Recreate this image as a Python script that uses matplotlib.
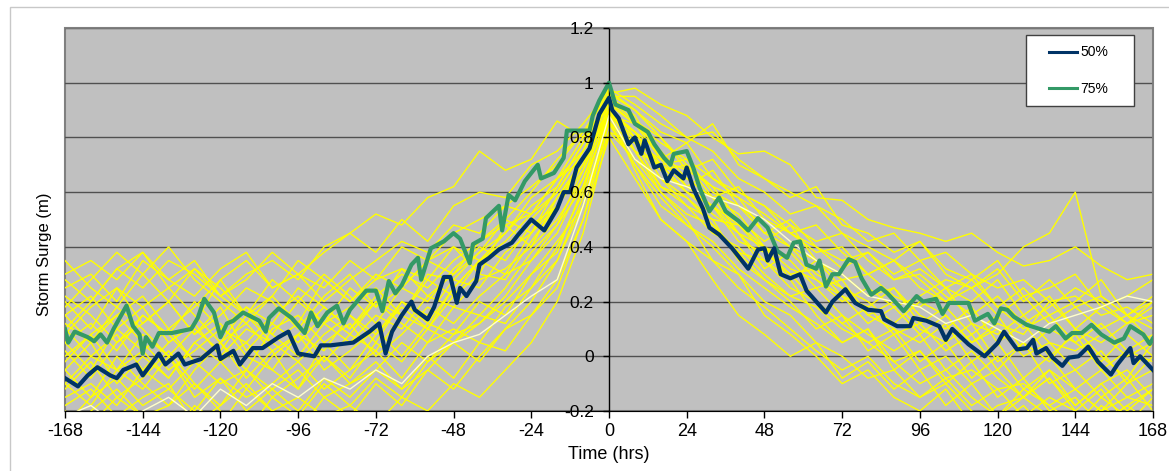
import matplotlib
matplotlib.use('Agg')  # no display here
import matplotlib.pyplot as plt
from matplotlib.patches import Rectangle
import numpy as np

plt.rcParams['font.family'] = ['Liberation Sans', 'DejaVu Sans']

# ---- data ----
x_ticks = [-168, -144, -120, -96, -72, -48, -24, 0, 24, 48, 72, 96, 120, 144, 168]
y_ticks = [-0.2, 0, 0.2, 0.4, 0.6, 0.8, 1.0, 1.2]
y_labels = ['-0.2', '0', '0.2', '0.4', '0.6', '0.8', '1', '1.2']

# individual storm runs, one value every 8 hours from -168 to 168
run_hours = np.arange(-168, 169, 8)
yellow_runs = [
    [0.30, 0.35, 0.28, 0.38, 0.25, 0.32, 0.22, 0.30, 0.35, 0.28, 0.40,
     0.45, 0.38, 0.50, 0.42, 0.55, 0.60, 0.58, 0.70, 0.75, 0.85, 0.97,
     0.90, 0.82, 0.78, 0.85, 0.70, 0.65, 0.60, 0.55, 0.50, 0.42, 0.45,
     0.35, 0.38, 0.30, 0.25, 0.28, 0.20, 0.22, 0.15, 0.18, 0.12],
    [-0.15, -0.10, -0.18, -0.05, -0.12, -0.20, -0.08, -0.15, -0.10, -0.02, -0.12,
     -0.05, 0.02, -0.08, 0.05, 0.10, 0.05, 0.18, 0.25, 0.40, 0.60, 0.90,
     0.75, 0.62, 0.55, 0.45, 0.40, 0.30, 0.22, 0.18, 0.10, 0.05, -0.02,
     0.02, -0.08, -0.05, -0.12, -0.10, -0.18, -0.12, -0.20, -0.15, -0.18],
    [0.05, 0.12, 0.02, 0.15, 0.08, 0.20, 0.10, 0.05, 0.15, 0.22, 0.12,
     0.18, 0.25, 0.15, 0.30, 0.28, 0.38, 0.45, 0.55, 0.62, 0.78, 0.92,
     0.80, 0.70, 0.72, 0.60, 0.55, 0.48, 0.40, 0.35, 0.28, 0.30, 0.22,
     0.18, 0.25, 0.12, 0.08, 0.15, 0.05, 0.02, 0.08, 0.00, 0.05],
    [0.20, 0.10, 0.25, 0.18, 0.05, 0.12, 0.28, 0.15, 0.08, 0.20, 0.30,
     0.22, 0.12, 0.25, 0.35, 0.40, 0.30, 0.48, 0.52, 0.65, 0.72, 0.88,
     0.85, 0.75, 0.65, 0.58, 0.62, 0.50, 0.45, 0.38, 0.40, 0.30, 0.35,
     0.25, 0.20, 0.28, 0.18, 0.10, 0.15, 0.05, 0.12, 0.02, 0.08],
    [-0.20, -0.25, -0.15, -0.22, -0.30, -0.18, -0.25, -0.12, -0.20, -0.28, -0.15,
     -0.22, -0.10, -0.18, -0.05, -0.12, 0.00, 0.10, 0.20, 0.35, 0.55, 0.85,
     0.70, 0.55, 0.48, 0.40, 0.30, 0.20, 0.15, 0.05, 0.00, -0.08, -0.05,
     -0.15, -0.10, -0.20, -0.25, -0.18, -0.28, -0.22, -0.30, -0.25, -0.22],
    [0.10, 0.00, 0.08, -0.05, 0.05, 0.12, 0.00, 0.10, 0.05, -0.02, 0.08,
     0.15, 0.05, 0.20, 0.12, 0.25, 0.35, 0.30, 0.45, 0.58, 0.70, 0.95,
     0.88, 0.72, 0.68, 0.62, 0.50, 0.42, 0.48, 0.35, 0.30, 0.22, 0.25,
     0.15, 0.10, 0.18, 0.05, 0.12, 0.00, 0.08, -0.05, 0.02, -0.02],
    [0.00, 0.08, -0.05, 0.02, 0.10, -0.02, 0.05, 0.12, 0.02, 0.08, 0.18,
     0.10, 0.20, 0.15, 0.28, 0.22, 0.35, 0.40, 0.50, 0.60, 0.75, 0.90,
     0.82, 0.70, 0.60, 0.55, 0.45, 0.40, 0.32, 0.28, 0.20, 0.25, 0.18,
     0.22, 0.28, 0.25, 0.30, 0.40, 0.45, 0.60, 0.22, 0.15, 0.10],
    [0.25, 0.30, 0.20, 0.35, 0.28, 0.22, 0.32, 0.38, 0.25, 0.30, 0.20,
     0.28, 0.35, 0.42, 0.38, 0.48, 0.45, 0.55, 0.52, 0.65, 0.80, 0.98,
     0.92, 0.85, 0.80, 0.75, 0.65, 0.60, 0.52, 0.55, 0.45, 0.40, 0.35,
     0.42, 0.30, 0.25, 0.32, 0.20, 0.28, 0.18, 0.22, 0.15, 0.20],
    [-0.05, 0.05, -0.10, 0.00, -0.08, 0.05, -0.02, -0.12, 0.00, 0.08, -0.05,
     0.02, 0.10, 0.00, 0.12, 0.08, 0.20, 0.15, 0.30, 0.42, 0.55, 0.82,
     0.78, 0.68, 0.70, 0.58, 0.52, 0.40, 0.35, 0.25, 0.28, 0.15, 0.10,
     0.05, 0.12, -0.02, 0.05, -0.08, 0.00, -0.12, -0.05, -0.15, -0.10],
    [0.15, 0.22, 0.10, 0.18, 0.25, 0.15, 0.05, 0.18, 0.12, 0.25, 0.18,
     0.10, 0.22, 0.30, 0.25, 0.35, 0.42, 0.50, 0.45, 0.62, 0.78, 0.95,
     0.95, 0.88, 0.80, 0.82, 0.72, 0.65, 0.58, 0.62, 0.48, 0.45, 0.38,
     0.42, 0.32, 0.28, 0.35, 0.22, 0.25, 0.30, 0.18, 0.22, 0.28],
    [-0.10, -0.18, -0.05, -0.12, 0.00, -0.15, -0.08, -0.20, -0.12, -0.05, -0.15,
     -0.10, -0.02, -0.12, -0.05, 0.05, -0.02, 0.10, 0.15, 0.28, 0.50, 0.80,
     0.65, 0.50, 0.42, 0.35, 0.25, 0.18, 0.10, 0.02, -0.05, 0.00, -0.10,
     -0.15, -0.08, -0.18, -0.12, -0.22, -0.15, -0.20, -0.25, -0.18, -0.12],
    [0.08, 0.18, 0.25, 0.12, 0.20, 0.08, 0.15, 0.25, 0.20, 0.10, 0.22,
     0.30, 0.18, 0.25, 0.20, 0.32, 0.40, 0.35, 0.48, 0.55, 0.68, 0.88,
     0.72, 0.65, 0.58, 0.50, 0.48, 0.38, 0.30, 0.32, 0.22, 0.18, 0.25,
     0.12, 0.18, 0.08, 0.15, 0.02, 0.10, 0.05, -0.02, 0.08, 0.00],
    [-0.18, -0.12, -0.22, -0.15, -0.10, -0.25, -0.18, -0.10, -0.20, -0.15, -0.22,
     -0.18, -0.25, -0.15, -0.20, -0.10, -0.15, -0.05, 0.05, 0.20, 0.45, 0.82,
     0.72, 0.60, 0.50, 0.35, 0.30, 0.15, 0.08, 0.00, -0.10, -0.05, -0.15,
     -0.20, -0.12, -0.25, -0.18, -0.15, -0.22, -0.28, -0.18, -0.25, -0.20],
    [0.12, 0.05, 0.15, 0.22, 0.10, 0.18, 0.28, 0.35, 0.25, 0.30, 0.38,
     0.45, 0.52, 0.48, 0.58, 0.62, 0.75, 0.68, 0.72, 0.86, 0.80, 0.93,
     0.85, 0.78, 0.72, 0.65, 0.58, 0.52, 0.45, 0.40, 0.35, 0.38, 0.28,
     0.32, 0.25, 0.20, 0.28, 0.15, 0.22, 0.10, 0.18, 0.12, 0.20],
    [0.28, 0.20, 0.32, 0.25, 0.35, 0.30, 0.22, 0.28, 0.38, 0.30, 0.25,
     0.35, 0.28, 0.40, 0.35, 0.45, 0.50, 0.55, 0.62, 0.70, 0.82, 0.96,
     0.98, 0.92, 0.88, 0.80, 0.74, 0.75, 0.70, 0.58, 0.57, 0.50, 0.47,
     0.45, 0.42, 0.45, 0.38, 0.33, 0.35, 0.40, 0.33, 0.28, 0.30],
    [0.05, -0.05, 0.10, 0.02, -0.08, 0.05, 0.12, 0.00, -0.05, 0.08, 0.02,
     0.15, 0.08, 0.20, 0.15, 0.28, 0.25, 0.38, 0.45, 0.55, 0.72, 0.90,
     0.68, 0.50, 0.42, 0.28, 0.15, 0.08, 0.00, 0.05, -0.08, -0.02, -0.12,
     -0.05, -0.18, -0.10, -0.22, -0.15, -0.08, -0.20, -0.12, -0.25, -0.15],
    [0.35, 0.25, 0.18, 0.30, 0.40, 0.28, 0.20, 0.12, 0.22, 0.35, 0.28,
     0.20, 0.30, 0.25, 0.35, 0.30, 0.42, 0.48, 0.40, 0.58, 0.72, 0.90,
     0.82, 0.75, 0.62, 0.68, 0.55, 0.45, 0.50, 0.40, 0.32, 0.38, 0.30,
     0.35, 0.25, 0.30, 0.18, 0.25, 0.15, 0.20, 0.28, 0.15, 0.22],
    [-0.02, 0.08, 0.15, 0.05, -0.05, 0.02, 0.10, 0.18, 0.08, 0.00, 0.12,
     0.05, 0.15, 0.10, 0.22, 0.18, 0.28, 0.32, 0.40, 0.50, 0.65, 0.85,
     0.78, 0.62, 0.58, 0.48, 0.38, 0.35, 0.25, 0.20, 0.12, 0.18, 0.08,
     0.12, 0.02, 0.08, -0.05, 0.05, -0.02, 0.10, 0.00, -0.08, 0.05],
    [-0.25, -0.15, -0.08, -0.18, -0.12, -0.02, -0.10, -0.05, -0.15, -0.08, 0.00,
     -0.10, -0.05, 0.05, -0.02, 0.08, 0.12, 0.20, 0.30, 0.38, 0.62, 0.88,
     0.80, 0.65, 0.55, 0.50, 0.35, 0.28, 0.20, 0.10, 0.15, 0.02, 0.08,
     -0.05, 0.00, -0.10, -0.05, -0.15, -0.08, -0.18, -0.10, -0.20, -0.12],
    [0.18, 0.28, 0.38, 0.30, 0.20, 0.32, 0.25, 0.15, 0.28, 0.20, 0.12,
     0.25, 0.18, 0.32, 0.28, 0.40, 0.35, 0.45, 0.58, 0.65, 0.75, 0.92,
     0.85, 0.72, 0.78, 0.65, 0.60, 0.55, 0.45, 0.48, 0.38, 0.30, 0.35,
     0.28, 0.20, 0.25, 0.15, 0.22, 0.12, 0.18, 0.10, 0.15, 0.05],
    [0.02, -0.08, 0.05, 0.15, 0.08, -0.02, 0.05, -0.05, 0.10, 0.15, 0.05,
     0.12, 0.00, 0.08, 0.18, 0.12, 0.22, 0.30, 0.35, 0.48, 0.68, 0.92,
     0.75, 0.70, 0.60, 0.52, 0.45, 0.32, 0.38, 0.28, 0.22, 0.12, 0.18,
     0.08, 0.15, 0.05, 0.10, 0.00, 0.05, -0.05, 0.02, -0.10, 0.00],
    [-0.12, -0.02, -0.15, -0.08, 0.02, -0.10, -0.18, -0.05, -0.12, -0.20, -0.08,
     -0.15, -0.05, -0.12, 0.00, -0.08, 0.05, 0.02, 0.15, 0.25, 0.50, 0.86,
     0.70, 0.58, 0.48, 0.42, 0.32, 0.25, 0.18, 0.12, 0.05, 0.10, -0.02,
     -0.10, -0.05, -0.15, -0.22, -0.12, -0.18, -0.25, -0.15, -0.22, -0.28],
    [0.10, 0.20, 0.32, 0.38, 0.28, 0.35, 0.22, 0.15, 0.05, 0.12, -0.02,
     0.08, 0.02, 0.15, 0.10, 0.25, 0.35, 0.42, 0.52, 0.60, 0.75, 0.94,
     0.86, 0.80, 0.70, 0.62, 0.58, 0.45, 0.40, 0.30, 0.25, 0.15, 0.20,
     0.10, 0.05, 0.12, -0.02, 0.05, -0.10, -0.05, -0.15, -0.08, -0.20],
    [-0.05, -0.15, 0.00, -0.10, -0.18, -0.05, 0.05, -0.08, 0.02, -0.12, 0.05,
     -0.05, 0.08, 0.18, 0.10, 0.22, 0.30, 0.28, 0.42, 0.55, 0.70, 0.90,
     0.78, 0.72, 0.62, 0.55, 0.42, 0.38, 0.30, 0.20, 0.12, 0.05, 0.10,
     -0.02, 0.05, -0.08, 0.00, -0.12, -0.05, -0.18, -0.10, -0.05, -0.15],
    [0.22, 0.15, 0.05, 0.12, 0.20, 0.08, 0.18, 0.02, 0.12, 0.05, 0.15,
     0.08, 0.20, 0.12, 0.05, 0.18, 0.15, 0.25, 0.38, 0.48, 0.62, 0.88,
     0.82, 0.68, 0.60, 0.55, 0.48, 0.40, 0.28, 0.35, 0.25, 0.20, 0.12,
     0.20, 0.15, 0.05, 0.12, 0.08, 0.20, 0.10, 0.05, 0.12, 0.15],
    [-0.28, -0.20, -0.12, -0.22, -0.18, -0.10, -0.20, -0.28, -0.15, -0.22, -0.10,
     -0.18, -0.08, -0.15, -0.02, 0.05, 0.12, 0.22, 0.35, 0.45, 0.65, 0.90,
     0.82, 0.70, 0.65, 0.58, 0.45, 0.35, 0.28, 0.15, 0.05, 0.10, -0.05,
     0.02, -0.10, -0.02, -0.15, -0.08, -0.20, -0.15, -0.25, -0.18, -0.25],
    [0.15, 0.05, 0.18, 0.10, 0.00, 0.10, 0.02, 0.15, 0.22, 0.12, 0.28,
     0.20, 0.28, 0.32, 0.22, 0.30, 0.38, 0.50, 0.60, 0.72, 0.82, 0.96,
     0.90, 0.80, 0.68, 0.72, 0.60, 0.55, 0.48, 0.42, 0.45, 0.35, 0.28,
     0.30, 0.22, 0.15, 0.22, 0.12, 0.18, 0.25, 0.20, 0.12, 0.18],
    [-0.10, 0.00, -0.05, 0.08, 0.00, -0.12, -0.02, 0.05, -0.05, -0.12, 0.00,
     -0.08, 0.05, -0.02, 0.10, 0.05, 0.15, 0.12, 0.25, 0.35, 0.58, 0.86,
     0.75, 0.60, 0.52, 0.48, 0.38, 0.28, 0.22, 0.25, 0.15, 0.08, 0.02,
     0.08, -0.05, 0.02, -0.08, -0.15, -0.05, -0.12, -0.20, -0.10, -0.05],
]
white_run = [-0.22, -0.18, -0.25, -0.20, -0.15, -0.22, -0.12, -0.18, -0.10, -0.15, -0.08,
             -0.12, -0.05, -0.10, 0.00, 0.05, 0.08, 0.15, 0.22, 0.28, 0.55, 0.88,
             0.72, 0.65, 0.62, 0.58, 0.55, 0.50, 0.42, 0.35, 0.30, 0.22, 0.20,
             0.18, 0.12, 0.15, 0.10, 0.05, 0.12, 0.15, 0.18, 0.22, 0.20]

# 50% curve
hours_50 = [-168, -164, -161, -158, -154, -152, -150, -146, -144, -139, -137, -133, -131,
            -126, -121, -120, -116, -114, -110, -107, -102, -99, -96, -91, -89, -86, -79,
            -74, -71, -69, -67, -64, -61, -60, -56, -54, -51, -49, -47, -46, -44, -41, -40,
            -37, -34, -30, -28, -24, -20, -16, -14, -12, -10, -8, -6, -3, 0, 1, 3, 6, 8,
            10, 11, 14, 16, 18, 20, 23, 24, 26, 29, 31, 34, 38, 43, 46, 48, 49, 51, 53, 56,
            59, 61, 64, 67, 69, 73, 76, 80, 84, 85, 89, 93, 94, 98, 102, 104, 106, 111,
            116, 120, 122, 126, 129, 131, 132, 135, 137, 140, 142, 145, 148, 151, 155,
            157, 161, 162, 164, 168]
surge_50 = [-0.08, -0.11, -0.07, -0.04, -0.07, -0.08, -0.05, -0.03, -0.07, 0.01, -0.03, 0.01, -0.03,
            -0.01, 0.04, -0.01, 0.02, -0.03, 0.03, 0.03, 0.07, 0.09, 0.01, 0.00, 0.04, 0.04, 0.05,
            0.09, 0.12, 0.01, 0.09, 0.15, 0.20, 0.17, 0.135, 0.18, 0.29, 0.29, 0.195, 0.25, 0.22, 0.275, 0.335,
            0.36, 0.39, 0.415, 0.445, 0.50, 0.46, 0.54, 0.60, 0.60, 0.69, 0.725, 0.76, 0.885, 0.945, 0.90, 0.87, 0.775, 0.80,
            0.74, 0.79, 0.69, 0.70, 0.64, 0.68, 0.65, 0.69, 0.615, 0.54, 0.47, 0.445, 0.395, 0.32, 0.39, 0.395, 0.35, 0.395, 0.30, 0.285,
            0.30, 0.24, 0.20, 0.16, 0.20, 0.245, 0.195, 0.17, 0.165, 0.135, 0.11, 0.11, 0.14, 0.13, 0.11, 0.06, 0.10, 0.044,
            0.00, 0.048, 0.09, 0.025, 0.03, 0.06, 0.01, 0.03, -0.005, -0.035, -0.005, 0.00, 0.035, -0.02, -0.067,
            -0.03, 0.03, -0.025, 0.00, -0.05]

# 75% curve
hours_75 = [-168, -167, -165, -161, -159, -157, -155, -153, -149, -147, -145, -144, -143, -141,
            -139, -135, -129, -127, -125, -122, -120, -118, -116, -113, -108, -106, -105, -102,
            -98, -94, -92, -90, -87, -84, -82, -80, -75, -72, -70, -68, -66, -64, -61, -59,
            -58, -55, -51, -48, -46, -43, -42, -39, -38, -34, -33, -31, -29, -26, -22, -21,
            -17, -14, -13, -6, -5, -3, 0, 2, 6, 8, 12, 14, 17, 19, 20, 24, 26, 28, 31, 34,
            36, 40, 43, 46, 49, 52, 55, 57, 59, 61, 64, 65, 67, 69, 71, 74, 76, 78, 81, 84,
            86, 91, 95, 97, 101, 103, 105, 111, 113, 117, 119, 121, 123, 125, 129, 133, 136,
            138, 141, 143, 146, 149, 152, 156, 159, 161, 163, 165, 167, 168]
surge_75 = [0.10, 0.05, 0.09, 0.07, 0.055, 0.08, 0.05, 0.10, 0.185, 0.11, 0.08, 0.01, 0.07, 0.035,
            0.085, 0.085, 0.10, 0.14, 0.21, 0.16, 0.07, 0.12, 0.13, 0.16, 0.13, 0.09, 0.14, 0.175,
            0.14, 0.085, 0.16, 0.11, 0.16, 0.185, 0.12, 0.17, 0.24, 0.24, 0.165, 0.275, 0.23, 0.26, 0.335, 0.36,
            0.28, 0.395, 0.42, 0.45, 0.43, 0.34, 0.41, 0.43, 0.505, 0.55, 0.46, 0.59, 0.57, 0.64, 0.70, 0.65,
            0.67, 0.725, 0.825, 0.825, 0.88, 0.935, 1.00, 0.92, 0.90, 0.85, 0.82, 0.775, 0.725, 0.70, 0.74, 0.75, 0.69, 0.615, 0.53, 0.58,
            0.53, 0.495, 0.46, 0.505, 0.47, 0.385, 0.36, 0.415, 0.42, 0.335, 0.32, 0.35, 0.255, 0.30, 0.30, 0.355, 0.345, 0.285, 0.225, 0.25,
            0.23, 0.165, 0.22, 0.20, 0.21, 0.155, 0.195, 0.195, 0.13, 0.155, 0.12, 0.175, 0.17, 0.145, 0.115, 0.10, 0.09,
            0.11, 0.065, 0.085, 0.085, 0.115, 0.08, 0.05, 0.065, 0.11, 0.095, 0.08, 0.045, 0.065]

W, H = 1169, 471
fig = plt.figure(figsize=(W / 100, H / 100), dpi=100)
ax = fig.add_axes([65 / W, 1 - 411 / H, (1153 - 65) / W, (411 - 28) / H])
ax.set_facecolor('#c0c0c0')

# horizontal gridlines under the data
for v in y_ticks:
    ax.axhline(v, color='#505050', lw=1, zorder=1)

for run in yellow_runs:
    ax.plot(run_hours, run, color='#ffff00', lw=1.0, zorder=2)
ax.plot(run_hours, white_run, color='#ffffcc', lw=1.0, zorder=2)

green, = ax.plot(hours_75, surge_75, color='#339966', lw=3.0, zorder=4)
navy, = ax.plot(hours_50, surge_50, color='#003366', lw=3.0, zorder=5)

ax.set_xlim(-168, 168)
ax.set_ylim(-0.2, 1.2)
ax.set_xticks(x_ticks)
ax.set_xticklabels([str(v) for v in x_ticks])
ax.set_yticks(y_ticks)
ax.set_yticklabels(y_labels)

# y axis crosses at time 0
ax.spines['left'].set_position(('data', 0))
ax.spines['left'].set_color('black')
ax.spines['left'].set_linewidth(1)
ax.spines['bottom'].set_color('black')
for s in ['top', 'right']:
    ax.spines[s].set_color('#808080')
    ax.spines[s].set_linewidth(1.2)
ax.patch.set_edgecolor('#808080')
ax.patch.set_linewidth(1.5)
ax.yaxis.set_zorder(6)

ax.tick_params(axis='y', direction='out', length=4, width=1, pad=7, labelsize=12.5)
ax.tick_params(axis='x', direction='out', length=5, width=1, pad=4, labelsize=13)
ax.set_xlabel('Time (hrs)', fontsize=13, labelpad=4)
fig.text(45 / W, 1 - 254 / H, 'Storm Surge (m)', rotation=90, ha='center', va='center', fontsize=12)

# outer chart border
fig.add_artist(Rectangle((10 / W, -0.1), 1.2, 1.1 - 7 / H, transform=fig.transFigure,
                         fill=False, edgecolor='#c8c8c8', lw=1))

# legend box
fig.add_artist(Rectangle((1026 / W, 1 - 106 / H), 108 / W, 71 / H, transform=fig.transFigure,
                         facecolor='white', edgecolor='#404040', lw=1, zorder=8))
leg = fig.legend([navy, green], ['50%', '75%'], loc='center',
                 bbox_to_anchor=(1079 / W, 1 - 70.5 / H), frameon=False, fontsize=10,
                 handlelength=2.0, handletextpad=0.25, labelspacing=1.6)
for h in leg.legend_handles:
    h.set_linewidth(2.2)
leg.set_zorder(9)

fig.savefig('out.png', dpi=100)
